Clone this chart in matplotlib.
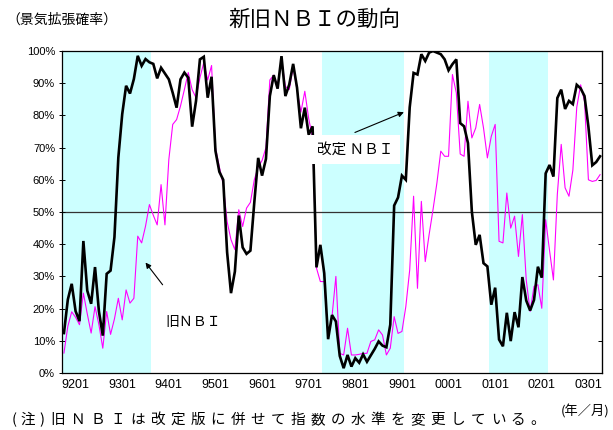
import numpy as np
import matplotlib
matplotlib.use('Agg')
import matplotlib.pyplot as plt

plt.rcParams['font.family'] = ['Noto Sans CJK JP', 'DejaVu Sans']

# 景気拡張確率 (%), 月次 1991/10 - 2003/05
new_nbi = [12.4, 22.8, 27.7, 19.2, 16.1, 41.0, 25.6, 21.5, 32.9, 19.2,
           11.6, 30.8, 31.8, 42.2, 66.9, 80.4, 89.2, 86.8, 91.3, 98.5,
           95.4, 97.5, 96.5, 96.0, 91.5, 94.8, 93.0, 91.2, 87.0, 82.4,
           91.2, 93.3, 91.7, 76.5, 84.5, 97.4, 98.2, 85.5, 92.0, 69.0,
           62.5, 60.0, 37.5, 24.8, 31.5, 48.9, 39.0, 37.0, 38.0, 53.0,
           66.8, 61.3, 66.5, 86.0, 92.5, 88.3, 98.4, 86.0, 89.6, 96.0,
           88.6, 76.0, 82.4, 74.0, 76.6, 32.8, 39.8, 31.0, 10.5, 18.0,
           16.0, 5.3, 1.5, 5.6, 2.0, 4.6, 3.2, 5.8, 3.5, 5.5,
           7.5, 9.8, 8.5, 8.0, 15.0, 52.0, 54.5, 61.3, 60.0, 82.5,
           93.2, 92.7, 99.0, 96.9, 99.5, 100.0, 99.5, 99.0, 97.4, 94.0,
           95.9, 97.4, 77.6, 76.6, 71.4, 50.1, 39.8, 42.9, 34.1, 33.1,
           21.2, 26.5, 10.4, 8.3, 18.7, 9.9, 18.9, 14.2, 29.8, 22.5,
           19.4, 22.7, 33.0, 29.6, 62.0, 64.6, 61.0, 85.4, 88.0, 82.0,
           84.5, 83.5, 89.5, 88.4, 86.0, 76.5, 64.5, 65.5, 67.3]

old_nbi = [6.2, 14.5, 19.0, 17.3, 15.0, 24.8, 18.4, 12.4, 20.6, 15.0,
           7.7, 19.1, 12.0, 16.8, 23.2, 16.5, 25.8, 21.7, 23.2, 42.5,
           40.4, 45.6, 52.3, 49.0, 46.0, 58.5, 46.0, 66.3, 77.2, 78.7,
           82.9, 88.0, 93.3, 88.0, 85.5, 91.7, 96.4, 91.0, 95.5, 70.0,
           64.0, 58.5, 47.0, 41.4, 38.3, 50.7, 45.5, 51.2, 53.0, 60.0,
           64.0, 66.0, 70.0, 91.0, 92.5, 89.0, 97.5, 89.0, 88.0, 95.0,
           88.0, 81.0, 87.5, 79.0, 73.0, 32.6, 28.4, 28.4, 10.8, 17.5,
           30.0, 6.1, 5.6, 13.9, 5.6, 5.6, 5.8, 6.1, 6.1, 9.8,
           10.3, 13.4, 11.8, 5.6, 7.7, 17.5, 12.3, 12.9, 20.6, 32.0,
           54.9, 26.3, 53.3, 34.6, 43.0, 50.7, 59.0, 68.9, 67.3, 67.3,
           92.7, 87.0, 68.0, 67.3, 84.4, 73.0, 76.1, 83.4, 76.1, 66.8,
           73.5, 77.2, 40.9, 40.4, 55.9, 45.0, 48.7, 36.2, 49.2, 28.9,
           19.1, 26.9, 27.4, 20.1, 47.6, 38.0, 28.9, 55.5, 71.0, 57.5,
           54.9, 63.0, 82.5, 89.5, 84.4, 60.0, 59.5, 59.8, 61.6]

# 1月の位置 (1991/10 を 0 とした月番号)
tick_pos = [3, 15, 27, 39, 51, 63, 75, 87, 99, 111, 123, 135]
tick_labels = ['9201', '9301', '9401', '9501', '9601', '9701',
               '9801', '9901', '0001', '0101', '0201', '0301']

# 景気後退期 (月番号の始め・終わり)
recessions = [(0, 22), (67, 87), (110, 124)]

fig = plt.figure(figsize=(6.13, 4.30), dpi=100)
ax = fig.add_axes([62 / 613, 57 / 430, 540 / 613, 322 / 430])

x = np.arange(len(new_nbi))
for s, e in recessions:
    ax.axvspan(s - 0.5, e + 0.5, color='#ccffff', lw=0, zorder=0)
ax.axhline(50, color='#333333', lw=0.9, zorder=1)
ax.plot(x, old_nbi, color='#ff00ff', lw=0.8, zorder=2)
ax.plot(x, new_nbi, color='black', lw=1.9, zorder=3, solid_joinstyle='miter')

ax.set_xlim(-0.5, len(x) - 0.5)
ax.set_ylim(0, 100)

yt = list(range(0, 101, 10))
ax.set_yticks(yt)
ax.set_yticklabels([f'{v}%' for v in yt], fontfamily='Liberation Sans', fontsize=8)
ax.tick_params(axis='y', direction='inout', length=4, width=0.7, pad=3)
ax.set_xticks(tick_pos)
ax.set_xticklabels(tick_labels, fontfamily='Liberation Sans', fontsize=9)
ax.tick_params(axis='x', length=0, pad=4)

right = ax.secondary_yaxis('right')
right.set_yticks(yt)
right.tick_params(direction='in', length=3, width=0.7, labelright=False)

for sp in ax.spines.values():
    sp.set_linewidth(0.9)
    sp.set_color('black')

# 注記と矢印
ax.annotate('', xy=(21.0, 34.3), xytext=(25.4, 27.4),
            arrowprops=dict(arrowstyle='-|>', color='black', lw=0.8,
                            mutation_scale=8, shrinkA=0, shrinkB=0))
ax.text(33.3, 15.9, '旧ＮＢＩ', fontsize=10, ha='center', va='center', zorder=5)

ax.annotate('', xy=(87.5, 81.0), xytext=(74.9, 74.7),
            arrowprops=dict(arrowstyle='-|>', color='black', lw=0.8,
                            mutation_scale=8, shrinkA=0, shrinkB=0))
ax.text(74.9, 69.4, '改定 ＮＢＩ', fontsize=10.5, ha='center', va='center', zorder=6,
        bbox=dict(boxstyle='square,pad=0.5', fc='white', ec='none'))

fig.text(314 / 613, 1 - 20 / 430, '新旧ＮＢＩの動向', fontsize=15.5,
         ha='center', va='center')
fig.text(6 / 613, 1 - 20 / 430, '（景気拡張確率）', fontsize=10,
         ha='left', va='center')
fig.text(609 / 613, 1 - 412 / 430, '(年／月)', fontsize=9.5,
         ha='right', va='center')

# 注記は字間を空けて一文字ずつ置く
note_head = ['(', '注', ')']
for i, ch in enumerate(note_head):
    fig.text((14 + 14 * i) / 613, 1 - 420 / 430, ch, fontsize=10.5,
             ha='center', va='center')
note = '旧ＮＢＩは改定版に併せて指数の水準を変更している。'
for i, ch in enumerate(note):
    fig.text((58 + 20.0 * i) / 613, 1 - 420 / 430, ch, fontsize=10.5,
             ha='center', va='center')

fig.savefig('out.png', dpi=100)
